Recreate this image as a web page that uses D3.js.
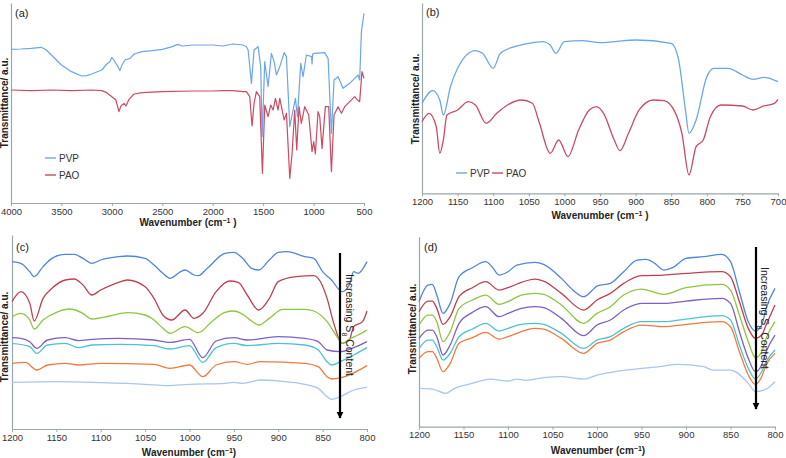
<!DOCTYPE html>
<html><head><meta charset="utf-8">
<script src="https://cdn.jsdelivr.net/npm/d3@7"></script>
<style>body{margin:0;background:#fff}svg{display:block;font-family:"Liberation Sans",Arial,sans-serif}</style>
</head><body><svg id="c" width="786" height="458"></svg>
<script>
// ---------- DATA (wavenumber cm^-1, transmittance a.u.) ----------
const seriesNames = ["PVP", "PAO"];
const ticksA = [4000,3500,3000,2500,2000,1500,1000,500];
const ticksB = [1200,1150,1100,1050,1000,950,900,850,800,750,700];
const ticksCD = [1200,1150,1100,1050,1000,950,900,850,800];

const pvpA = [[4000,452],[3900,453],[3800,455],[3700,458],[3650,450],[3600,435],[3500,405],[3400,385],[3300,372],[3250,373],[3200,378],[3100,390],[3050,408],[3020,415],[3000,428],[2980,420],[2940,400],[2920,388],[2900,405],[2870,420],[2820,425],[2780,438],[2700,445],[2600,448],[2500,452],[2400,460],[2350,467],[2300,462],[2200,465],[2100,465],[2000,465],[1900,462],[1850,465],[1800,468],[1700,465],[1666,460],[1649,450],[1616,350],[1590,450],[1550,460],[1524,400],[1510,190],[1484,415],[1451,340],[1418,440],[1391,415],[1368,375],[1335,400],[1292,442],[1269,430],[1236,220],[1203,270],[1180,305],[1160,250],[1127,410],[1104,370],[1071,435],[1020,430],[1015,408],[1009,438],[989,440],[890,442],[856,425],[823,200],[797,360],[757,370],[708,335],[642,350],[592,365],[559,375],[543,360],[526,505],[500,560]];
const paoA = [[4000,330],[3800,328],[3600,330],[3400,328],[3200,330],[3100,328],[3050,322],[3000,310],[2960,300],[2930,265],[2910,282],[2880,290],[2860,282],[2830,302],[2780,318],[2700,322],[2500,325],[2200,327],[2000,327],[1900,328],[1800,328],[1700,325],[1666,325],[1633,310],[1610,222],[1590,290],[1567,325],[1534,310],[1507,80],[1484,285],[1451,250],[1425,285],[1401,270],[1378,305],[1352,270],[1335,305],[1292,240],[1269,260],[1236,65],[1213,140],[1187,270],[1167,150],[1144,280],[1121,230],[1088,280],[1048,255],[1015,145],[999,175],[982,138],[956,265],[939,250],[916,155],[883,280],[850,280],[823,85],[797,255],[757,280],[724,260],[691,280],[642,295],[592,310],[566,300],[543,295],[520,385],[500,365]];

const pvpB = [[1200,290],[1185,328],[1175,300],[1170,255],[1160,340],[1150,395],[1125,448],[1115,440],[1100,395],[1090,440],[1070,460],[1050,470],[1030,475],[1020,465],[1012,440],[1000,475],[975,478],[950,472],[930,475],[900,480],[850,470],[840,425],[830,270],[825,200],[815,240],[800,370],[790,395],[770,395],[750,375],[735,362],[720,368],[700,355]];
const paoB = [[1200,235],[1190,260],[1180,220],[1175,140],[1170,180],[1165,255],[1150,270],[1135,295],[1125,285],[1110,230],[1095,260],[1080,285],[1060,300],[1045,290],[1035,230],[1020,140],[1008,180],[995,130],[980,210],[965,270],[955,280],[945,260],[930,180],[922,148],[910,200],[895,270],[875,300],[860,298],[845,265],[835,200],[825,75],[815,160],[805,180],[795,250],[780,285],[750,282],[735,270],[720,282],[705,290],[700,302]];

const c1 = [[1200,490],[1190,485],[1180,460],[1175,445],[1165,475],[1155,500],[1140,512],[1130,512],[1120,500],[1110,485],[1100,495],[1080,505],[1070,507],[1050,500],[1040,480],[1030,455],[1022,440],[1010,460],[1005,465],[995,450],[990,448],[980,470],[960,515],[950,518],[940,500],[930,470],[922,465],[910,495],[900,518],[890,520],[870,505],[860,500],[850,460],[840,435],[828,400],[820,420],[815,460],[810,455],[800,490]];
const c2 = [[1200,370],[1190,400],[1180,365],[1175,312],[1165,380],[1155,410],[1140,435],[1130,438],[1120,420],[1110,390],[1100,405],[1080,428],[1070,435],[1050,415],[1040,380],[1030,330],[1020,315],[1005,345],[995,320],[985,335],[970,400],[955,432],[945,428],[935,390],[922,345],[910,380],[900,430],[880,445],[860,448],[855,440],[845,380],[838,310],[828,245],[820,255],[815,295],[805,310],[800,342]];
const c3 = [[1200,325],[1190,335],[1180,315],[1175,288],[1165,315],[1150,338],[1135,348],[1120,335],[1110,318],[1090,327],[1070,337],[1050,330],[1040,315],[1030,290],[1022,275],[1005,295],[990,277],[975,310],[960,338],[950,342],[940,332],[930,312],[922,300],[910,320],[895,347],[870,347],[860,342],[845,310],[835,270],[828,245],[820,258],[810,270],[800,285]];
const c4 = [[1200,262],[1190,260],[1180,250],[1172,230],[1160,255],[1140,262],[1125,253],[1110,257],[1080,260],[1040,255],[1022,248],[1000,257],[985,202],[970,252],[950,262],[935,255],[900,265],[870,260],[855,250],[845,225],[830,220],[815,232],[800,250]];
const c5 = [[1200,245],[1180,235],[1172,215],[1160,240],[1140,245],[1125,232],[1110,240],[1080,242],[1040,238],[1022,228],[1000,238],[985,188],[970,232],[950,245],[935,238],[900,245],[870,240],[855,225],[845,190],[840,180],[830,190],[815,210],[800,232]];
const c6 = [[1200,185],[1185,188],[1172,165],[1160,180],[1140,185],[1125,180],[1100,185],[1040,182],[1022,170],[1000,180],[985,145],[970,180],[950,190],[935,182],[920,190],[870,185],[855,175],[845,145],[840,138],[825,145],[800,178]];
const c7 = [[1200,128],[1150,130],[1100,127],[1050,122],[1025,118],[1000,122],[960,125],[950,128],[940,125],[920,135],[900,132],[870,122],[855,110],[845,85],[840,77],[830,85],[815,105],[800,113]];

const d1 = [[1200,370],[1190,420],[1185,422],[1180,390],[1173,335],[1165,365],[1155,445],[1140,472],[1125,490],[1118,475],[1110,450],[1100,460],[1090,480],[1070,488],[1060,482],[1040,440],[1025,400],[1015,385],[1005,405],[1000,417],[985,425],[970,460],[955,495],[945,497],[935,485],[925,465],[915,472],[900,500],[880,505],[860,512],[850,490],[840,400],[830,310],[822,282],[815,300],[810,350],[800,410]];
const d2 = [[1200,340],[1190,372],[1185,372],[1180,350],[1173,302],[1165,325],[1155,385],[1140,412],[1125,430],[1110,405],[1100,412],[1085,428],[1070,438],[1060,432],[1040,395],[1015,345],[1000,375],[985,395],[970,425],[950,448],[925,450],[900,455],[860,460],[850,445],[840,370],[830,290],[822,260],[815,270],[810,300],[800,360]];
const d3s = [[1200,300],[1190,330],[1185,330],[1180,310],[1173,250],[1165,280],[1155,350],[1140,375],[1125,390],[1110,362],[1100,370],[1085,390],[1070,395],[1060,392],[1040,360],[1015,305],[1000,335],[985,355],[970,390],[950,408],[925,392],[900,412],[860,422],[850,405],[840,330],[830,250],[822,202],[815,220],[810,260],[800,310]];
const d4 = [[1200,260],[1190,285],[1185,285],[1180,265],[1173,210],[1165,240],[1155,305],[1140,338],[1125,355],[1110,325],[1100,335],[1085,350],[1070,355],[1060,352],[1040,320],[1015,268],[1000,300],[985,315],[970,345],[950,365],[925,365],[900,372],[860,380],[850,365],[840,280],[830,200],[822,160],[815,180],[810,220],[800,270]];
const d5 = [[1200,230],[1190,255],[1185,255],[1180,235],[1173,195],[1165,215],[1155,265],[1140,288],[1125,305],[1110,282],[1100,290],[1085,302],[1070,305],[1060,302],[1040,275],[1015,230],[1000,255],[985,265],[970,290],[950,310],[925,310],[900,318],[860,328],[850,315],[840,240],[830,170],[822,138],[815,160],[810,190],[800,225]];
const d6 = [[1200,200],[1190,220],[1185,220],[1180,200],[1173,160],[1165,185],[1155,245],[1140,262],[1125,278],[1110,258],[1100,265],[1085,280],[1070,290],[1060,288],[1040,260],[1015,215],[1000,245],[985,255],[970,280],[950,300],[925,295],[900,302],[860,310],[850,295],[840,220],[830,150],[822,122],[815,145],[810,180],[800,215]];
const d7 = [[1200,110],[1185,108],[1170,95],[1160,110],[1140,125],[1120,138],[1100,132],[1090,138],[1080,134],[1060,142],[1040,145],[1015,138],[1000,150],[980,160],[950,170],[930,175],[910,182],[880,175],[870,165],[850,165],[830,125],[822,100],[810,108],[800,130]];

const colorsAB = ["#6aa6ea", "#cc4a62"];
const colorsCD = ["#4f86dc", "#c0404e", "#8cc63e", "#7e5fc4", "#4cc3d2", "#f07a3c", "#a8c6f0"];

// ---------- DRAW ----------
const svg = d3.select("#c");
const FONT = '"Liberation Sans", Arial, sans-serif';
const axisColor = "#9aa7aa";

function panel(cfg) {
  const g = svg.append("g");
  const x = d3.scaleLinear().domain(cfg.xDomain).range([cfg.x0, cfg.x1]);
  const y = d3.scaleLinear().domain(cfg.yDomain).range([cfg.yBottom, cfg.yTop]);
  // x axis
  const xa = g.append("g").attr("transform", `translate(0,${cfg.yBottom})`)
    .call(d3.axisBottom(x).tickValues(cfg.ticks).tickSize(3).tickSizeOuter(0).tickPadding(2).tickFormat(d3.format("d")));
  xa.select(".domain").attr("stroke", axisColor).attr("stroke-width", 1.2);
  xa.selectAll(".tick line").attr("stroke", axisColor);
  xa.selectAll(".tick text").attr("fill", "#333").attr("font-size", 9.5).attr("font-family", FONT);
  // y axis line
  const ya = g.append("g").attr("transform", `translate(${cfg.x0},0)`)
    .call(d3.axisLeft(y).tickValues([]).tickSizeOuter(0));
  ya.select(".domain").attr("stroke", axisColor).attr("stroke-width", 1.2);
  // series
  const line = d3.line().x(d => x(d[0])).y(d => y(d[1])).curve(cfg.curve);
  cfg.series.forEach((s, i) => {
    g.append("path").datum(s).attr("d", line).attr("fill", "none")
      .attr("stroke", cfg.colors[i]).attr("stroke-width", cfg.sw).attr("stroke-linejoin", "round");
  });
  // panel label
  g.append("text").attr("x", cfg.lx).attr("y", cfg.ly).text(cfg.label)
    .attr("font-size", 11).attr("fill", "#222");
  // y title
  g.append("text").attr("transform", `translate(${cfg.ytx},${cfg.yty}) rotate(-90)`)
    .attr("text-anchor", "middle").attr("font-size", 10).attr("font-weight", "bold").attr("fill", "#222")
    .text("Transmittance/ a.u.");
  // x title
  const t = g.append("text").attr("x", cfg.xtx).attr("y", cfg.xty).attr("text-anchor", "middle")
    .attr("font-size", 10).attr("font-weight", "bold").attr("fill", "#222");
  t.append("tspan").text("Wavenumber (cm");
  t.append("tspan").text("−1").attr("font-size", 7).attr("baseline-shift", "super");
  t.append("tspan").text(cfg.space ? " )" : ")");
  return {g, x, y};
}

const A = panel({x0: 11, x1: 364, yBottom: 203, yTop: 3, xDomain: [4000, 500], yDomain: [-9, 591],
  ticks: ticksA, series: [pvpA, paoA], colors: colorsAB, sw: 1.2, curve: d3.curveLinear,
  label: "(a)", lx: 15, ly: 17, ytx: 8, yty: 103, xtx: 188, xty: 226, space: true});
const B = panel({x0: 422, x1: 778, yBottom: 193.3, yTop: 3, xDomain: [1200, 700], yDomain: [20, 591],
  ticks: ticksB, series: [pvpB, paoB], colors: colorsAB, sw: 1.3, curve: d3.curveMonotoneX,
  label: "(b)", lx: 426, ly: 16, ytx: 419, yty: 99, xtx: 600, xty: 219, space: true});
const C = panel({x0: 12, x1: 367, yBottom: 429, yTop: 235, xDomain: [1200, 800], yDomain: [-12, 570],
  ticks: ticksCD, series: [c1, c2, c3, c4, c5, c6, c7], colors: colorsCD, sw: 1.3, curve: d3.curveMonotoneX,
  label: "(c)", lx: 16, ly: 251, ytx: 8, yty: 337, xtx: 189, xty: 456, space: false});
const D = panel({x0: 419, x1: 775, yBottom: 426.7, yTop: 236.7, xDomain: [1200, 800], yDomain: [-5, 565],
  ticks: ticksCD, series: [d1, d2, d3s, d4, d5, d6, d7], colors: colorsCD, sw: 1.3, curve: d3.curveMonotoneX,
  label: "(d)", lx: 424, ly: 251, ytx: 416, yty: 329, xtx: 598, xty: 454, space: false});

// legends
function legend(items) {
  items.forEach(it => {
    svg.append("line").attr("x1", it.x).attr("x2", it.x + 11).attr("y1", it.y).attr("y2", it.y)
      .attr("stroke", it.c).attr("stroke-width", 1.4);
    svg.append("text").attr("x", it.x + 14).attr("y", it.y + 3.5).text(it.t)
      .attr("font-size", 10).attr("fill", "#333").attr("font-family", FONT);
  });
}
legend([{x: 45, y: 158, c: colorsAB[0], t: seriesNames[0]}, {x: 45, y: 175, c: colorsAB[1], t: seriesNames[1]}]);
legend([{x: 456, y: 173, c: colorsAB[0], t: seriesNames[0]}, {x: 492, y: 173, c: colorsAB[1], t: seriesNames[1]}]);

// arrows
svg.append("defs").append("marker").attr("id", "ah").attr("viewBox", "0 0 10 10")
  .attr("refX", 9).attr("refY", 5).attr("markerWidth", 3.2).attr("markerHeight", 3.6)
  .attr("orient", "auto").append("path").attr("d", "M0,0L10,5L0,10z").attr("fill", "#000");
function arrow(ax, y1, y2, tx, ty) {
  svg.append("line").attr("x1", ax).attr("x2", ax).attr("y1", y1).attr("y2", y2)
    .attr("stroke", "#000").attr("stroke-width", 2.2).attr("marker-end", "url(#ah)");
  const t = svg.append("text").attr("transform", `translate(${tx},${ty}) rotate(90)`)
    .attr("font-size", 10.5).attr("fill", "#222").attr("font-family", FONT);
  t.append("tspan").text("Increasing S");
  t.append("tspan").text("8").attr("font-size", 7).attr("baseline-shift", "sub");
  t.append("tspan").text(" Content");
}
arrow(340, 253, 418, 346, 274);
arrow(756, 247, 409, 761, 267);
</script></body></html>
